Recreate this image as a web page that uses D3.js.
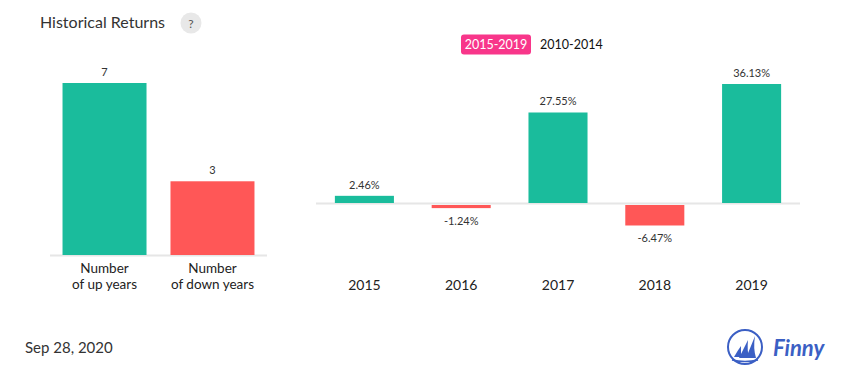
<!DOCTYPE html>
<html><head><meta charset="utf-8">
<script src="https://cdn.jsdelivr.net/npm/d3@7"></script>
<style>
body{margin:0;background:#fff;}
svg{display:block;font-family:Lato,"Open Sans",sans-serif;}
</style></head>
<body><svg id="c" width="855" height="382"></svg>
<script>
const countCategories = ["up", "down"];
const countLabels = [["Number", "of up years"], ["Number", "of down years"]];
const countValues = [7, 3];
const years = ["2015", "2016", "2017", "2018", "2019"];
const returns = [2.46, -1.24, 27.55, -6.47, 36.13];
const legendItems = ["2015-2019", "2010-2014"];
const titleText = "Historical Returns";
const dateText = "Sep 28, 2020";

const GREEN = "#1abc9c", RED = "#ff5757", TEXT = "#333";
const svg = d3.select("#c");

// title
svg.append("text").attr("x", 40).attr("y", 28).attr("font-size", 16).attr("fill", TEXT).text(titleText);
svg.append("circle").attr("cx", 191).attr("cy", 23).attr("r", 10.5).attr("fill", "#e8e8e8");
svg.append("text").attr("x", 191).attr("y", 27.5).attr("text-anchor", "middle").attr("font-size", 12).attr("fill", "#555").text("?");

// legend
svg.append("rect").attr("x", 461).attr("y", 34.5).attr("width", 70).attr("height", 20).attr("rx", 3).attr("fill", "#f8368a");
svg.append("text").attr("x", 496).attr("y", 49).attr("text-anchor", "middle").attr("font-size", 12.5).attr("fill", "#fff").text(legendItems[0]);
svg.append("text").attr("x", 540).attr("y", 49).attr("font-size", 12.5).attr("fill", "#111").text(legendItems[1]);

// left chart
const xL = d3.scaleBand().domain(countCategories).range([50, 267]).paddingInner(0.222).paddingOuter(0.116);
const yL = d3.scaleLinear().domain([0, 7]).range([255, 83]);
svg.append("line").attr("x1", 50).attr("x2", 267).attr("y1", 255.5).attr("y2", 255.5).attr("stroke", "#e6e6e6").attr("stroke-width", 2);
svg.selectAll(".lbar").data(countValues).join("rect")
  .attr("x", (d, i) => xL(countCategories[i])).attr("width", xL.bandwidth())
  .attr("y", d => yL(d)).attr("height", d => yL(0) - yL(d))
  .attr("fill", (d, i) => i === 0 ? GREEN : RED);
svg.selectAll(".lval").data(countValues).join("text")
  .attr("x", (d, i) => xL(countCategories[i]) + xL.bandwidth() / 2)
  .attr("y", d => yL(d) - 7).attr("text-anchor", "middle").attr("font-size", 11).attr("fill", TEXT)
  .text(d => d);
countLabels.forEach((lines, i) => {
  lines.forEach((t, j) => {
    svg.append("text").attr("x", xL(countCategories[i]) + xL.bandwidth() / 2)
      .attr("y", 273 + j * 16).attr("text-anchor", "middle").attr("font-size", 13.5).attr("fill", "#222").text(t);
  });
});

// right chart
const xR = d3.scaleBand().domain(years).range([316, 800]).paddingInner(0.39).paddingOuter(0.195);
const yR = d3.scaleLinear().domain([0, 36.13]).range([204, 84]);
svg.append("line").attr("x1", 316).attr("x2", 800).attr("y1", 203.5).attr("y2", 203.5).attr("stroke", "#e6e6e6").attr("stroke-width", 2);
svg.selectAll(".rbar").data(returns).join("rect")
  .attr("x", (d, i) => xR(years[i])).attr("width", xR.bandwidth())
  .attr("y", d => d >= 0 ? yR(d) : yR(0) + 1)
  .attr("height", d => d >= 0 ? yR(0) - yR(d) - 1 : yR(d) - yR(0) - 1)
  .attr("fill", d => d >= 0 ? GREEN : RED);
svg.selectAll(".rval").data(returns).join("text")
  .attr("x", (d, i) => xR(years[i]) + xR.bandwidth() / 2)
  .attr("y", d => d >= 0 ? yR(d) - 7 : yR(d) + 17)
  .attr("text-anchor", "middle").attr("font-size", 11).attr("fill", TEXT)
  .text(d => d.toFixed(2) + "%");
const xAxis = d3.axisBottom(xR).tickSize(0).tickPadding(0);
const ax = svg.append("g").attr("transform", "translate(0,280)").call(xAxis);
ax.select(".domain").remove();
ax.selectAll("text").attr("font-size", 14).attr("fill", "#222").attr("font-family", "Lato, sans-serif");

// date
svg.append("text").attr("x", 25).attr("y", 353).attr("font-size", 15).attr("fill", TEXT).text(dateText);

// logo
const LB = "#3b5fc4";
svg.append("circle").attr("cx", 745).attr("cy", 347).attr("r", 17).attr("fill", "none").attr("stroke", LB).attr("stroke-width", 2);
svg.append("path").attr("d", "M734,357 Q738,350 741,346 L741,357 Z").attr("fill", LB);
svg.append("path").attr("d", "M739,358 Q744,348 748,340 Q747,350 749,358 Z").attr("fill", LB);
svg.append("path").attr("d", "M746,358 Q751,346 755,336 Q753,348 756,358 Z").attr("fill", LB);
svg.append("path").attr("d", "M732,360 Q745,363 758,360").attr("fill", "none").attr("stroke", LB).attr("stroke-width", 1.5);
svg.append("text").attr("x", 773).attr("y", 356).attr("font-size", 22).attr("font-weight", "bold").attr("font-style", "italic")
  .attr("font-family", "Lato, sans-serif").attr("fill", LB).text("Finny");
</script></body></html>
